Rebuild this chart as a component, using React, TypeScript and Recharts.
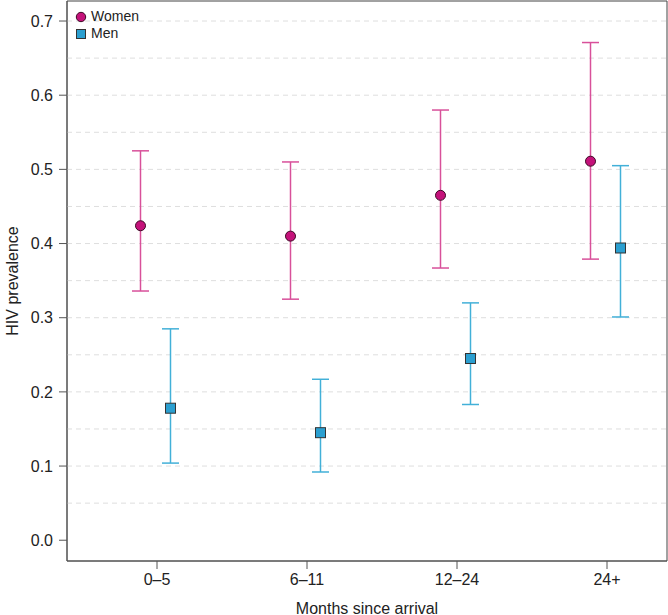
import React from 'react';
import {
  ComposedChart,
  Scatter,
  ErrorBar,
  XAxis,
  YAxis,
  ReferenceLine,
  ReferenceArea,
} from 'recharts';

// data
const categories = ['0–5', '6–11', '12–24', '24+'];
const womenEst = [0.424, 0.41, 0.465, 0.511];
const womenLow = [0.336, 0.325, 0.367, 0.379];
const womenHigh = [0.525, 0.51, 0.58, 0.671];
const menEst = [0.178, 0.145, 0.245, 0.394];
const menLow = [0.104, 0.092, 0.183, 0.301];
const menHigh = [0.285, 0.217, 0.32, 0.505];
const yTicks = [0, 0.1, 0.2, 0.3, 0.4, 0.5, 0.6, 0.7];
const gridValues = [0.05, 0.1, 0.15, 0.2, 0.25, 0.3, 0.35, 0.4, 0.45, 0.5, 0.55, 0.6, 0.65, 0.7];

const X_DOMAIN: [number, number] = [0.4, 4.4];
const Y_DOMAIN: [number, number] = [-0.028, 0.727];
const WOMEN_SHIFT = -0.11;
const MEN_SHIFT = 0.09;

const FONT = '"Liberation Sans", Arial, Helvetica, sans-serif';
const WOMEN_FILL = '#c4127a';
const WOMEN_LINE = '#d8509a';
const MEN_FILL = '#2b9fd0';
const MEN_LINE = '#42b0d8';
const AXIS = '#555';

const build = (est: number[], low: number[], high: number[], shift: number) =>
  est.map((v, i) => ({
    x: i + 1 + shift,
    y: v,
    err: [v - low[i], high[i] - v],
  }));

const womenData = build(womenEst, womenLow, womenHigh, WOMEN_SHIFT);
const menData = build(menEst, menLow, menHigh, MEN_SHIFT);

const WomenDot = (props: any) => (
  <circle cx={props.cx} cy={props.cy} r={5} fill={WOMEN_FILL} stroke="#3d0a25" strokeWidth={1} />
);

const MenDot = (props: any) => (
  <rect x={props.cx - 5} y={props.cy - 5} width={10} height={10} fill={MEN_FILL} stroke="#333" strokeWidth={1} />
);

const YTitle = (props: any) => {
  const vb = props.viewBox || { y: 0, height: 0 };
  const cx = 12;
  const cy = vb.y + vb.height / 2;
  return (
    <text
      x={cx}
      y={cy}
      transform={`rotate(-90 ${cx} ${cy})`}
      textAnchor="middle"
      dominantBaseline="central"
      fontFamily={FONT}
      fontSize={16}
      fill="#222"
    >
      HIV prevalence
    </text>
  );
};

const XTitle = (props: any) => {
  const vb = props.viewBox || { x: 0, width: 0 };
  const cx = vb.x + vb.width / 2;
  return (
    <text x={cx} y={608} textAnchor="middle" dominantBaseline="central" fontFamily={FONT} fontSize={16} fill="#222">
      Months since arrival
    </text>
  );
};

const LegendBox = () => (
  <div
    style={{
      position: 'absolute',
      left: 75,
      top: 8,
      fontFamily: FONT,
      fontSize: 14,
      color: '#222',
      lineHeight: '17px',
    }}
  >
    <div style={{ display: 'flex', alignItems: 'center' }}>
      <svg width={12} height={12} style={{ marginRight: 4 }}>
        <circle cx={6} cy={6} r={4.7} fill={WOMEN_FILL} stroke="#3d0a25" strokeWidth={1} />
      </svg>
      Women
    </div>
    <div style={{ display: 'flex', alignItems: 'center' }}>
      <svg width={12} height={12} style={{ marginRight: 4 }}>
        <rect x={1.5} y={1.5} width={9} height={9} fill={MEN_FILL} stroke="#333" strokeWidth={1} />
      </svg>
      Men
    </div>
  </div>
);

export default function App() {
  return (
    <div style={{ position: 'absolute', left: 0, top: 0, width: 668, height: 615, background: '#fff' }}>
      <ComposedChart width={668} height={615} margin={{ top: 1, right: 1, bottom: 0, left: 7 }}>
        {gridValues.map((v) => (
          <ReferenceLine key={v} y={v} stroke="#dedede" strokeDasharray="5 4" strokeWidth={1} />
        ))}
        <XAxis
          type="number"
          dataKey="x"
          domain={X_DOMAIN}
          allowDataOverflow
          ticks={[1, 2, 3, 4]}
          tickFormatter={(v: number) => categories[v - 1] ?? ''}
          height={54}
          tickSize={8}
          tickMargin={5}
          stroke={AXIS}
          tick={{ fill: '#222', fontFamily: FONT, fontSize: 16 }}
          label={{ content: XTitle }}
        />
        <YAxis
          type="number"
          dataKey="y"
          domain={Y_DOMAIN}
          allowDataOverflow
          ticks={yTicks}
          tickFormatter={(v: number) => v.toFixed(1)}
          width={60}
          tickSize={8}
          tickMargin={6}
          stroke={AXIS}
          tick={{ fill: '#222', fontFamily: FONT, fontSize: 16 }}
          label={{ content: YTitle }}
        />
        <ReferenceArea
          x1={X_DOMAIN[0]}
          x2={X_DOMAIN[1]}
          y1={Y_DOMAIN[0]}
          y2={Y_DOMAIN[1]}
          fill="none"
          stroke="#444"
          strokeWidth={1}
          ifOverflow="visible"
        />
        <Scatter name="Women" data={womenData} shape={WomenDot} isAnimationActive={false}>
          <ErrorBar dataKey="err" direction="y" width={8.5} stroke={WOMEN_LINE} strokeWidth={1.5} isAnimationActive={false} />
        </Scatter>
        <Scatter name="Men" data={menData} shape={MenDot} isAnimationActive={false}>
          <ErrorBar dataKey="err" direction="y" width={8.5} stroke={MEN_LINE} strokeWidth={1.5} isAnimationActive={false} />
        </Scatter>
      </ComposedChart>
      <LegendBox />
    </div>
  );
}
